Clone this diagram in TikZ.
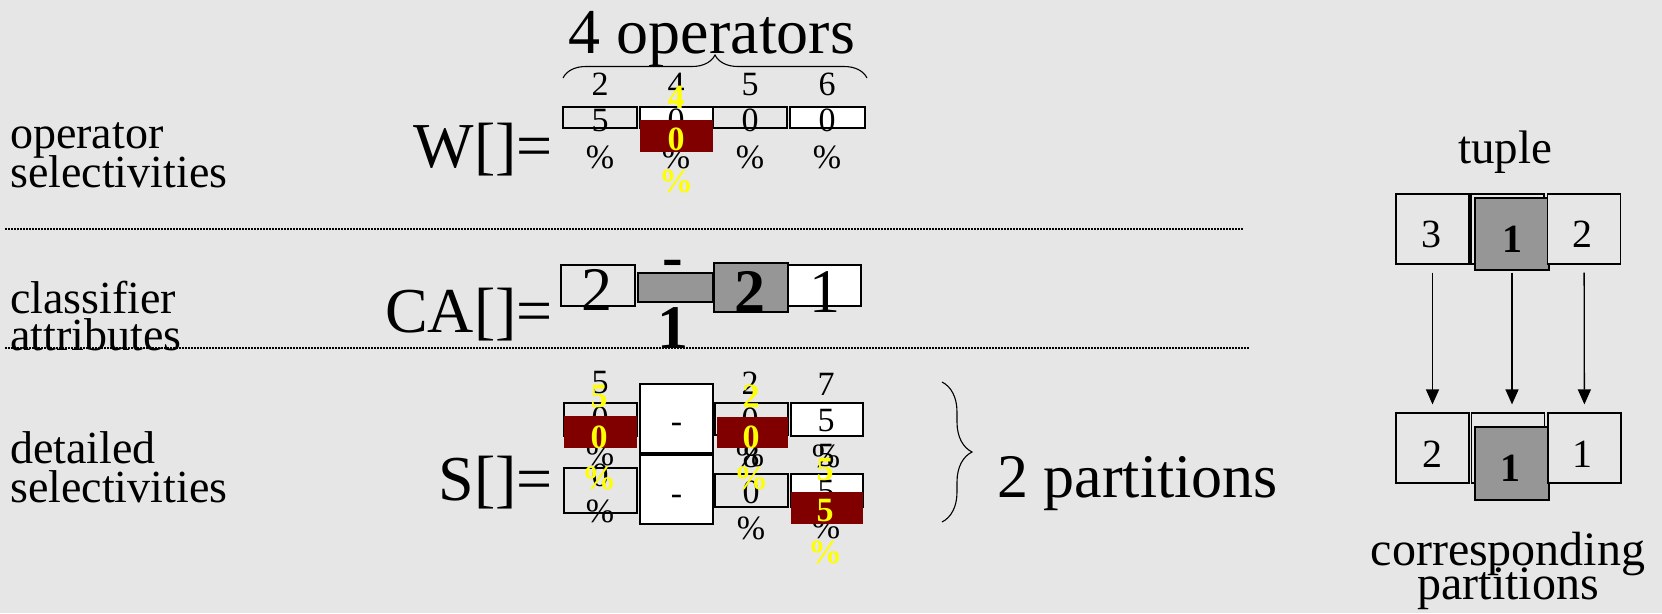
\documentclass[tikz,border=0pt]{standalone}
\usepackage{fontspec}
\setmainfont{Liberation Serif}
\usetikzlibrary{positioning,arrows.meta,decorations.pathreplacing}

\definecolor{slidebg}{HTML}{E6E6E6}
\definecolor{selgray}{HTML}{969696}
\definecolor{hotred}{HTML}{800000}
\definecolor{hotyellow}{HTML}{FFFF00}

% a value squeezed into a narrow cell: one glyph per line
\newcommand{\wrapval}[6][]{%
  \foreach \ch [count=\i] in {#6}
    \node[anchor=base,#1] (#2\i) at (#3,#4+#5*\i-#5) {\ch};
}

\begin{document}
\begin{tikzpicture}[x=1pt, y=-1pt,
  every node/.style={inner sep=0pt},
  cell/.style={draw, line width=1.2pt, inner sep=0pt},
  hilite/.style={fill=hotred, inner sep=0pt},
  rowname/.style={font=\fontsize{46}{39}\selectfont, anchor=base west},
  arrname/.style={font=\fontsize{64}{70}\selectfont, anchor=base east},
  num/.style={font=\fontsize{34}{36}\selectfont},
  hotval/.style={font=\bfseries\fontsize{34}{36}\selectfont, text=hotyellow},
  bignum/.style={font=\fontsize{62}{70}\selectfont, anchor=base},
  divider/.style={line width=1.2pt, dash pattern=on 2pt off 1pt},
  tbox/.style={cell, fill=slidebg, minimum width=73, minimum height=70},
  tnum/.style={font=\fontsize{40}{44}\selectfont, anchor=base},
  flow/.style={line width=1.3pt, -{Triangle[length=15pt,width=13pt]}, shorten <=8pt, shorten >=8pt}
]
\fill[slidebg] (0,0) rectangle (1662,613);
\useasboundingbox (0,0) rectangle (1662,613);

% row names
\node[rowname] (opname1) at (10,148) {operator};
\node[rowname] (opname2) at (10,187) {selectivities};
\node[rowname] (caname1) at (10,313) {classifier};
\node[rowname] (caname2) at (10,350) {attributes};
\node[rowname] (dsname1) at (10,463) {detailed};
\node[rowname] (dsname2) at (10,502) {selectivities};

\coordinate (div1a) at (5,229);
\coordinate (div1b) at (1243,229);
\coordinate (div2a) at (5,348);
\coordinate (div2b) at (1249,348);
\draw[divider] (div1a) -- (div1b);
\draw[divider] (div2a) -- (div2b);

\node[arrname] (wname) at (553,167) {W[]=};
\node[arrname] (caname) at (553,332) {CA[]=};
\node[arrname] (sname) at (553,500) {S[]=};

% W[]
\node[font=\fontsize{64}{70}\selectfont, anchor=base] (ops) at (712,53) {4 operators};
\coordinate (opsl) at (563,78);
\coordinate (opsr) at (867,78);
\draw[decorate, decoration={brace, amplitude=23pt}, line width=1.1pt] (opsl) -- (opsr);

\node[cell, fill=slidebg, minimum width=74, minimum height=21] (w1) at (600,117.5) {};
\node[cell, fill=white, minimum width=73, minimum height=21] (w2) at (676.5,117.5) {};
\node[cell, fill=slidebg, minimum width=74, minimum height=21] (w3) at (750,117.5) {};
\node[cell, fill=white, minimum width=75, minimum height=21] (w4) at (827.5,117.5) {};
\wrapval[num]{wa}{600}{95}{36.5}{2,5,\%}
\wrapval[num]{wb}{676}{95}{36.5}{4,0,\%}
\wrapval[num]{wc}{750}{95}{36.5}{5,0,\%}
\wrapval[num]{wd}{827}{95}{36.5}{6,0,\%}
\node[hilite, minimum width=73, minimum height=32] (whot) at (676.5,136) {};
\wrapval[hotval]{wy}{676}{108}{42}{4,0,\%}

% CA[]
\node[cell, fill=slidebg, minimum width=74, minimum height=41] (ca1) at (598,285.5) {};
\node[cell, fill=selgray, minimum width=75, minimum height=29] (ca2) at (675.5,287.5) {};
\node[cell, fill=selgray, minimum width=74, minimum height=49] (ca3) at (751,287.5) {};
\node[cell, fill=white, minimum width=73, minimum height=41] (ca4) at (824.5,285.5) {};
\node[bignum] (ca1v) at (597,310) {2};
\wrapval[bignum, font=\bfseries\fontsize{62}{70}\selectfont]{cab}{673}{277}{71}{-,1}
\node[bignum, font=\bfseries\fontsize{62}{70}\selectfont] (ca3v) at (750,312) {2};
\node[bignum] (ca4v) at (825,312) {1};

% S[]
\node[cell, fill=slidebg, minimum width=73, minimum height=33] (s11) at (600.5,419.5) {};
\node[cell, fill=slidebg, minimum width=73, minimum height=45] (s21) at (600.5,490.5) {};
\node[cell, fill=white, minimum width=73, minimum height=69] (s12) at (676.5,418.5) {};
\node[cell, fill=white, minimum width=73, minimum height=69] (s22) at (676.5,489.5) {};
\node[cell, fill=slidebg, minimum width=73, minimum height=32] (s13) at (751.5,419) {};
\node[cell, fill=slidebg, minimum width=73, minimum height=33] (s23) at (751.5,490.5) {};
\node[cell, fill=white, minimum width=72, minimum height=33] (s14) at (827,419.5) {};
\node[cell, fill=white, minimum width=72, minimum height=33] (s24) at (827,490.5) {};

\node[num, anchor=base] (s12v) at (676.5,432.5) {-};
\node[num, anchor=base] (s22v) at (676.5,504.5) {-};
\wrapval[num]{sa}{600}{393}{36}{5,0,\%}
\wrapval[num]{sb}{600}{486}{36}{0,\%}
\wrapval[num]{sc}{750}{394}{36}{2,0,\%}
\wrapval[num]{sd}{751}{467}{36}{8,0,\%}
\wrapval[num]{se}{826}{395}{36}{7,5,\%}
\wrapval[num]{sf}{826}{466}{36}{5,5,\%}

\node[hilite, minimum width=73, minimum height=32] (shot1) at (600.5,432) {};
\node[hilite, minimum width=71, minimum height=31] (shot3) at (752.5,432.5) {};
\node[hilite, minimum width=72, minimum height=32] (shot4) at (827,508) {};
\wrapval[hotval]{sy}{599}{407}{41}{5,0,\%}
\wrapval[hotval]{sz}{751}{407}{41}{2,0,\%}
\wrapval[hotval]{sw}{825}{480}{41.5}{5,5,\%}

\coordinate (partt) at (942,382);
\coordinate (partb) at (942,522);
\draw[decorate, decoration={brace, amplitude=30pt}, line width=1.1pt] (partt) -- (partb);
\node[font=\fontsize{62}{70}\selectfont, anchor=base west] (parts) at (997,497) {2 partitions};

% tuple and its partitions
\node[font=\fontsize{47}{50}\selectfont, anchor=base] (tuple) at (1505,163) {tuple};
\node[tbox] (t1) at (1432.5,229) {};
\node[tbox] (t2) at (1507.5,229) {};
\node[tbox, fill=selgray, minimum width=74, minimum height=72] (t2g) at (1512,234) {};
\node[tbox] (t3) at (1584,229) {};
\node[tnum] (t1v) at (1431,247) {3};
\node[tnum, font=\bfseries\fontsize{40}{44}\selectfont] (t2v) at (1512,252) {1};
\node[tnum] (t3v) at (1582,247) {2};

\node[tbox] (p1) at (1432.5,448) {};
\node[tbox] (p2) at (1508,448) {};
\node[tbox, fill=selgray, minimum width=74, minimum height=73] (p2g) at (1512,463.5) {};
\node[tbox] (p3) at (1584.5,448) {};
\node[tnum] (p1v) at (1432,467) {2};
\node[tnum, font=\bfseries\fontsize{40}{44}\selectfont] (p2v) at (1510,481) {1};
\node[tnum] (p3v) at (1582,467) {1};

\draw[flow] (t1) -- (p1);
\draw[flow, shorten <=2pt] (t2g.south) -- (t2g.south |- p2.north);
\draw[flow] (t3) -- (p3);

\node[font=\fontsize{48}{36}\selectfont, anchor=base] (corr1) at (1508,565) {corresponding};
\node[font=\fontsize{48}{36}\selectfont, anchor=base] (corr2) at (1508,599) {partitions};
\end{tikzpicture}
\end{document}
